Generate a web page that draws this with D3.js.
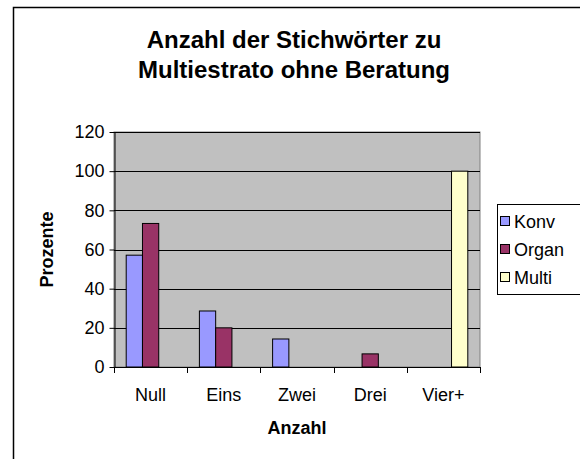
<!DOCTYPE html>
<html>
<head>
<meta charset="utf-8">
<script src="https://cdn.jsdelivr.net/npm/d3@7"></script>
<style>
  html, body { margin: 0; padding: 0; background: #fff; }
  svg { display: block; font-family: Arial, "Liberation Sans", sans-serif; }
</style>
</head>
<body>
<svg id="chart" width="580" height="459"></svg>
<script>
// Categories and series (percent of answers)
const categories = ["Null", "Eins", "Zwei", "Drei", "Vier+"];
const seriesNames = ["Konv", "Organ", "Multi"];
const konv  = [57.1, 28.6, 14.3, 0, 0];
const organ = [73.3, 20.0, 0, 6.7, 0];
const multi = [0, 0, 0, 0, 100];
const yTicks = [0, 20, 40, 60, 80, 100, 120];
const seriesColors = ["#9999FF", "#993366", "#FFFFCC"];

const series = [konv, organ, multi];

const svg = d3.select("#chart");

// outer chart frame
svg.append("rect")
  .attr("x", 13.5).attr("y", 7.5)
  .attr("width", 620).attr("height", 520)
  .attr("fill", "#fff").attr("stroke", "#000").attr("stroke-width", 1.5);

const plot = { left: 114, right: 480, top: 132, bottom: 367 };

const x = d3.scaleBand().domain(categories).range([plot.left, plot.right]).paddingInner(0).paddingOuter(0);
const xs = d3.scaleBand().domain(seriesNames).range([0, x.bandwidth()]).paddingInner(0).paddingOuter(0.75);
const y = d3.scaleLinear().domain([0, 120]).range([plot.bottom, plot.top]);

// plot background
svg.append("rect")
  .attr("x", plot.left).attr("y", plot.top)
  .attr("width", plot.right - plot.left).attr("height", plot.bottom - plot.top)
  .attr("fill", "#C0C0C0").attr("stroke", "#808080").attr("stroke-width", 1);

// gridlines
svg.append("g").selectAll("line")
  .data(yTicks.filter(t => t > 0))
  .join("line")
  .attr("x1", plot.left).attr("x2", plot.right)
  .attr("y1", d => Math.round(y(d)) + 0.5).attr("y2", d => Math.round(y(d)) + 0.5)
  .attr("stroke", "#000").attr("stroke-width", 1);

// bars
const rows = [];
series.forEach((vals, si) => vals.forEach((v, ci) => {
  if (v > 0) rows.push({ s: seriesNames[si], c: categories[ci], v, color: seriesColors[si] });
}));
svg.append("g").selectAll("rect")
  .data(rows)
  .join("rect")
  .attr("x", d => x(d.c) + xs(d.s))
  .attr("y", d => y(d.v))
  .attr("width", xs.bandwidth())
  .attr("height", d => y(0) - y(d.v))
  .attr("fill", d => d.color)
  .attr("stroke", "#000").attr("stroke-width", 1);

// y axis
const yAxis = svg.append("g")
  .attr("transform", `translate(${plot.left + 0.5},0)`)
  .call(d3.axisLeft(y).tickValues(yTicks).tickSize(5).tickPadding(5).tickSizeOuter(0));
yAxis.select(".domain").attr("stroke", "#000");
yAxis.selectAll("text").attr("font-size", 18).attr("fill", "#000")
  .attr("font-family", "Arial, 'Liberation Sans', sans-serif");

// x axis: baseline, boundary ticks and category labels
const xAxis = svg.append("g");
xAxis.append("line")
  .attr("x1", plot.left).attr("x2", plot.right + 0.5)
  .attr("y1", plot.bottom + 0.5).attr("y2", plot.bottom + 0.5)
  .attr("stroke", "#000");
const bounds = categories.map(c => x(c)).concat([x(categories[categories.length - 1]) + x.bandwidth()]);
xAxis.selectAll("line.tk")
  .data(bounds)
  .join("line").attr("class", "tk")
  .attr("x1", d => Math.round(d) + 0.5).attr("x2", d => Math.round(d) + 0.5)
  .attr("y1", plot.bottom).attr("y2", plot.bottom + 6)
  .attr("stroke", "#000");
xAxis.selectAll("text")
  .data(categories)
  .join("text")
  .attr("x", d => x(d) + x.bandwidth() / 2)
  .attr("y", 401)
  .attr("text-anchor", "middle")
  .attr("font-size", 18)
  .text(d => d);

// axis titles
svg.append("text")
  .attr("x", (plot.left + plot.right) / 2).attr("y", 434)
  .attr("text-anchor", "middle").attr("font-size", 18).attr("font-weight", "bold")
  .text("Anzahl");
svg.append("text")
  .attr("transform", `translate(53,${(plot.top + plot.bottom) / 2}) rotate(-90)`)
  .attr("text-anchor", "middle").attr("font-size", 18).attr("font-weight", "bold")
  .text("Prozente");

// title
const title = svg.append("text").attr("text-anchor", "middle")
  .attr("font-size", 24).attr("font-weight", "bold");
title.append("tspan").attr("x", 294).attr("y", 48).text("Anzahl der Stichwörter zu");
title.append("tspan").attr("x", 294).attr("y", 78).text("Multiestrato ohne Beratung");

// legend
const legend = svg.append("g");
legend.append("rect")
  .attr("x", 497.5).attr("y", 204.5).attr("width", 120).attr("height", 90)
  .attr("fill", "#fff").attr("stroke", "#000");
const li = legend.selectAll("g.item")
  .data(seriesNames)
  .join("g").attr("class", "item")
  .attr("transform", (d, i) => `translate(0,${221 + i * 28})`);
li.append("rect")
  .attr("x", 500.5).attr("y", -4.5).attr("width", 9).attr("height", 9)
  .attr("fill", (d, i) => seriesColors[i]).attr("stroke", "#000");
li.append("text")
  .attr("x", 514).attr("y", 6.5)
  .attr("font-size", 18)
  .text(d => d);
</script>
</body>
</html>
